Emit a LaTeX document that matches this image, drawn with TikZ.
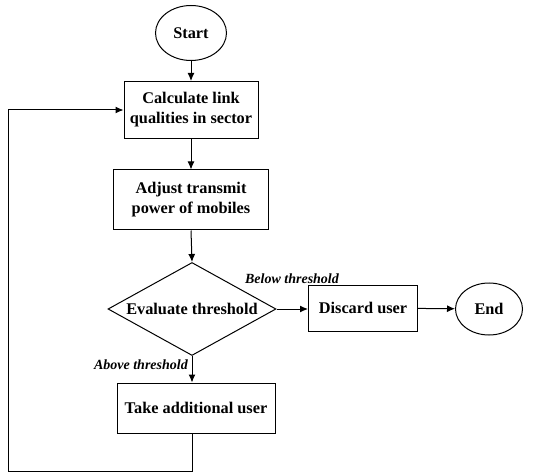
\documentclass[tikz,border=0pt]{standalone}
\usepackage{fontspec}
\setmainfont{Liberation Serif}
\usetikzlibrary{shapes.geometric,arrows.meta}

\newcommand\flowfont{\bfseries\fontsize{16.3bp}{20bp}\selectfont}
\newcommand\labelfont{\bfseries\itshape\fontsize{14bp}{16bp}\selectfont}

\tikzset{
  flowarrow/.style={-{Latex[length=8bp,width=7bp]}, line width=1bp},
  terminal/.style={ellipse, draw, line width=1bp, minimum width=71bp,
    minimum height=55bp, inner sep=0pt, font=\flowfont},
  process/.style={rectangle, draw, line width=1bp, align=center,
    inner sep=0pt, font=\flowfont},
  decision/.style={diamond, draw, line width=1bp, aspect=2.6, minimum width=168bp,
    minimum height=93bp, inner sep=0pt, font=\flowfont},
  condlabel/.style={font=\labelfont, inner sep=0pt}
}

\begin{document}
\begin{tikzpicture}[x=1bp,y=-1bp]
        \useasboundingbox (0,0) rectangle (534,472);
        % flow chart nodes
        \node[terminal] (start) at (191,33) {Start};
        \node[process, minimum width=134bp, minimum height=57bp] (calc) at (191,110)
            {Calculate link\\qualities in sector};
        \node[process, minimum width=155bp, minimum height=60bp] (adjust) at (191,200)
            {Adjust transmit\\power of mobiles};
        \node[decision] (eval) at (192,309) {Evaluate threshold};
        \node[process, minimum width=109bp, minimum height=46bp] (discard) at (363,308)
            {Discard user};
        \node[terminal, minimum width=67bp, minimum height=52bp] (end) at (489,309) {End};
        \node[process, minimum width=158bp, minimum height=50bp] (take) at (196,408)
            {Take additional user};
        \coordinate (loopcorner) at (8,471);

        % branch labels
        \node[condlabel] (belowlbl) at (292,279) {Below threshold};
        \node[condlabel, anchor=east] (abovelbl) at (188,365) {Above threshold};

        % connectors
        \draw[flowarrow] (start) -- (calc);
        \draw[flowarrow] (calc) -- (adjust);
        \draw[flowarrow] (adjust.south) -- (eval.north);
        \draw[flowarrow] (eval.east) -- (eval.east -| discard.west);
        \draw[flowarrow] (discard) -- (end);
        \draw[flowarrow] (eval.south) -- (eval.south |- take.north);
        \draw[flowarrow] (eval.south |- take.south) |- (loopcorner) |- (calc.west);
    \end{tikzpicture}
\end{document}
